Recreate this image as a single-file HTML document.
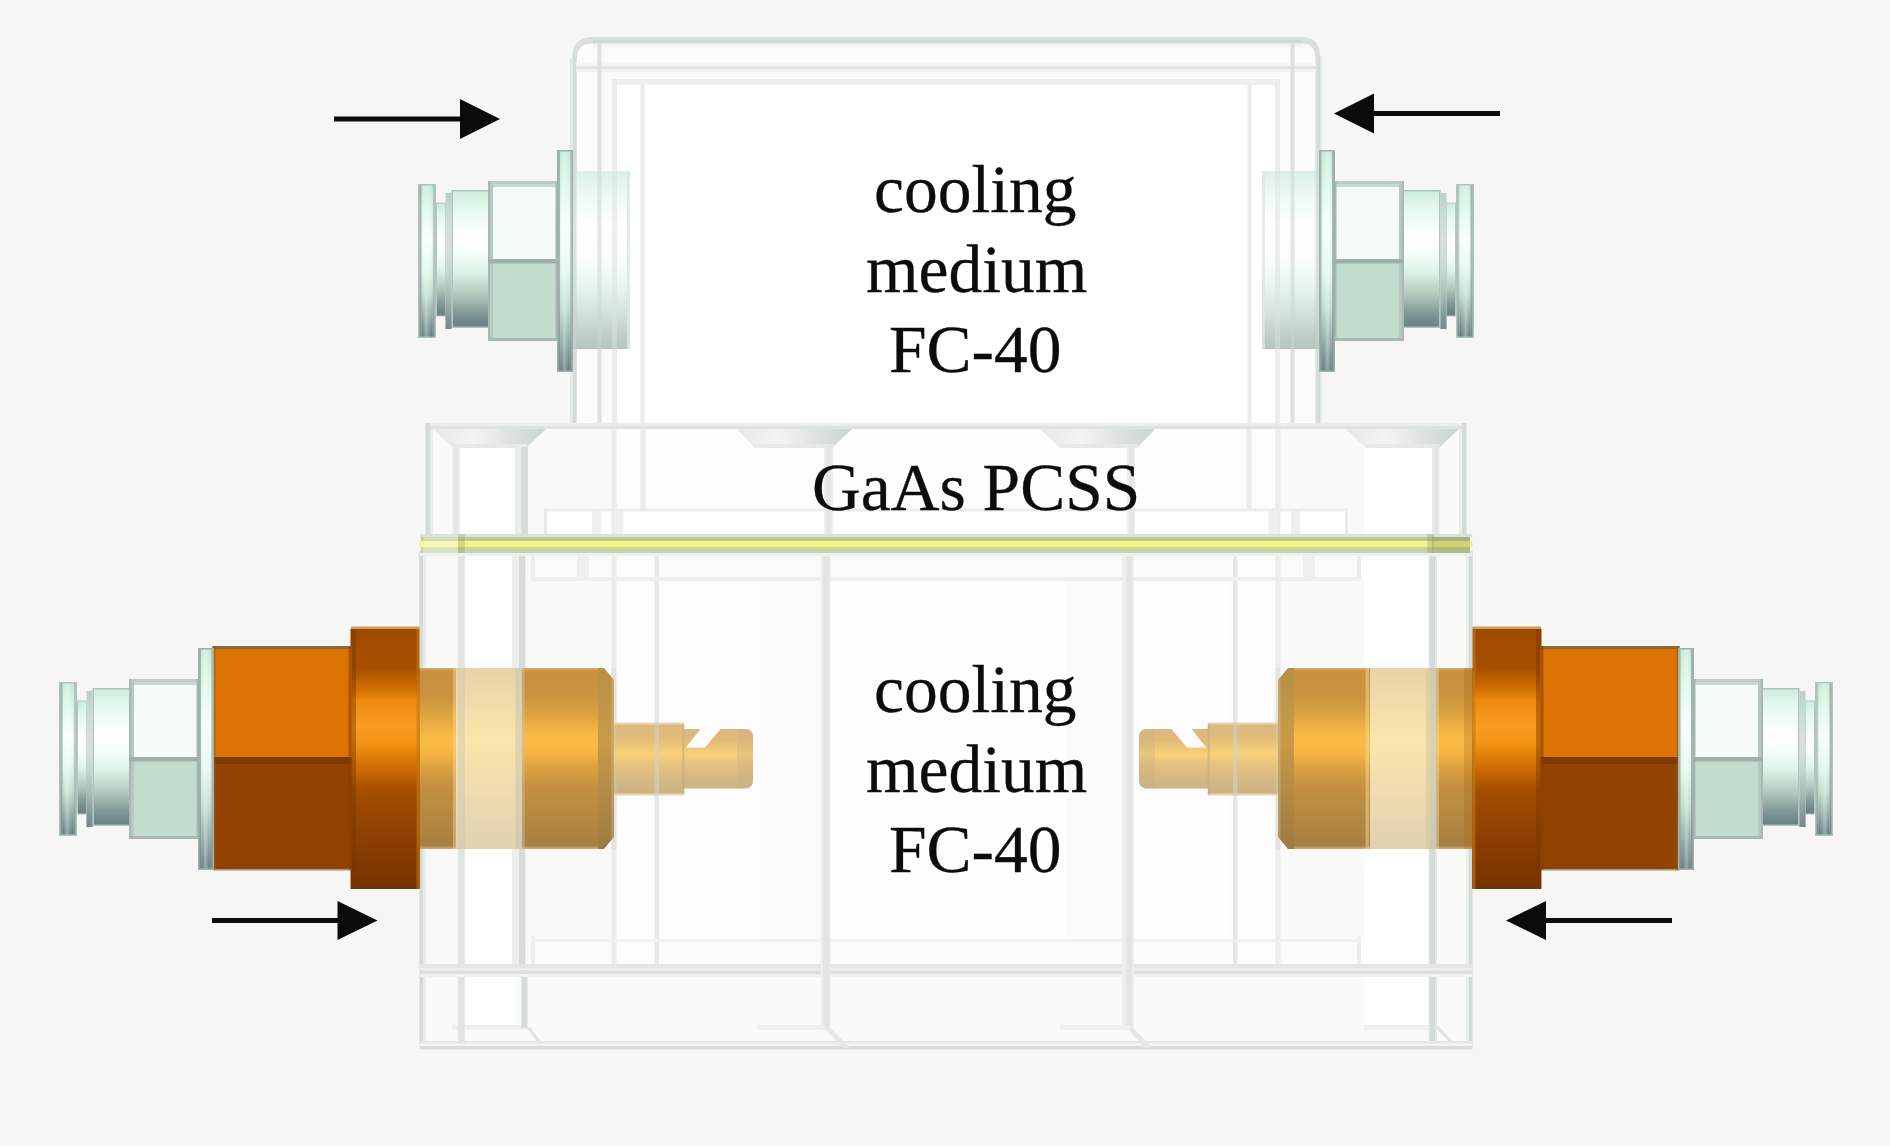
<!DOCTYPE html>
<html><head><meta charset="utf-8"><style>
html,body{margin:0;padding:0;background:#f6f6f4;}
svg{display:block}
text{font-family:"Liberation Serif",serif;fill:#0b0c0c}
</style></head><body>
<svg width="1890" height="1146" viewBox="0 0 1890 1146">
<defs>
 <linearGradient id="gCyl" x1="0" y1="0" x2="0" y2="1">
  <stop offset="0" stop-color="#cdeadb"/><stop offset="0.12" stop-color="#e2f9ec"/>
  <stop offset="0.33" stop-color="#ffffff"/><stop offset="0.45" stop-color="#f6fff9"/><stop offset="0.58" stop-color="#dff5e8"/>
  <stop offset="0.75" stop-color="#b4ccc0"/><stop offset="0.9" stop-color="#7e9694"/>
  <stop offset="1" stop-color="#687e84"/>
 </linearGradient>
 <linearGradient id="gRing" x1="0" y1="0" x2="0" y2="1">
  <stop offset="0" stop-color="#c4ead4"/><stop offset="0.15" stop-color="#daf7e6"/>
  <stop offset="0.35" stop-color="#f6fffa"/><stop offset="0.55" stop-color="#e2f8eb"/>
  <stop offset="0.72" stop-color="#bcdcca"/><stop offset="0.87" stop-color="#8aa6a0"/>
  <stop offset="1" stop-color="#5f767a"/>
 </linearGradient>
 <linearGradient id="gRingH" x1="0" y1="0" x2="1" y2="0">
  <stop offset="0" stop-color="#7f9490" stop-opacity="0.75"/><stop offset="0.18" stop-color="#7f9490" stop-opacity="0.6"/>
  <stop offset="0.24" stop-color="#ffffff" stop-opacity="0"/>
  <stop offset="0.45" stop-color="#ffffff" stop-opacity="0.35"/><stop offset="0.75" stop-color="#ffffff" stop-opacity="0"/>
  <stop offset="0.85" stop-color="#8a9c9a" stop-opacity="0.45"/><stop offset="1" stop-color="#8a9c9a" stop-opacity="0.6"/>
 </linearGradient>
 <linearGradient id="gOrRing" x1="0" y1="0" x2="0" y2="1">
  <stop offset="0" stop-color="#a04a00"/><stop offset="0.155" stop-color="#a85000"/>
  <stop offset="0.23" stop-color="#d07000"/><stop offset="0.275" stop-color="#ee8a10"/>
  <stop offset="0.37" stop-color="#fa9c22"/><stop offset="0.44" stop-color="#f39414"/>
  <stop offset="0.53" stop-color="#cf6e04"/><stop offset="0.62" stop-color="#a44e00"/>
  <stop offset="0.75" stop-color="#934400"/><stop offset="0.9" stop-color="#803800"/>
  <stop offset="1" stop-color="#743200"/>
 </linearGradient>
 <linearGradient id="gGold" x1="0" y1="0" x2="0" y2="1">
  <stop offset="0" stop-color="#d6ad6a"/><stop offset="0.02" stop-color="#c8913f"/>
  <stop offset="0.15" stop-color="#c99340"/><stop offset="0.25" stop-color="#dca23f"/>
  <stop offset="0.35" stop-color="#f5b544"/><stop offset="0.39" stop-color="#fbbb46"/>
  <stop offset="0.47" stop-color="#f7b644"/><stop offset="0.55" stop-color="#dda240"/>
  <stop offset="0.65" stop-color="#c69040"/><stop offset="0.8" stop-color="#b78a40"/>
  <stop offset="0.98" stop-color="#a98040"/><stop offset="1" stop-color="#cdb080"/>
 </linearGradient>
 <linearGradient id="gGoldD" x1="0" y1="0" x2="0" y2="1">
  <stop offset="0" stop-color="#b89048"/><stop offset="0.4" stop-color="#c99a48"/>
  <stop offset="1" stop-color="#9c7a44"/>
 </linearGradient>
 <linearGradient id="gPale" x1="0" y1="0" x2="0" y2="1">
  <stop offset="0" stop-color="#e8d3a8"/><stop offset="0.4" stop-color="#fbe5ab"/>
  <stop offset="1" stop-color="#e0d1b2"/>
 </linearGradient>
 <linearGradient id="gPin" x1="0" y1="0" x2="0" y2="1">
  <stop offset="0" stop-color="#dcb882"/><stop offset="0.2" stop-color="#e2bb78"/>
  <stop offset="0.42" stop-color="#f9d27a"/><stop offset="0.6" stop-color="#e6c080"/>
  <stop offset="0.8" stop-color="#d5b886"/><stop offset="1" stop-color="#ceb383"/>
 </linearGradient>
 <linearGradient id="gBody" x1="0" y1="0" x2="0" y2="1">
  <stop offset="0" stop-color="#d6efe1"/><stop offset="0.15" stop-color="#ecfaf2"/>
  <stop offset="0.3" stop-color="#ffffff"/><stop offset="0.5" stop-color="#f8fefb"/>
  <stop offset="0.66" stop-color="#e0f3e8"/><stop offset="0.82" stop-color="#c6dacf"/>
  <stop offset="0.93" stop-color="#b2c5bd"/><stop offset="1" stop-color="#a9bbb4"/>
 </linearGradient>
 <linearGradient id="gTrap" x1="0" y1="0" x2="1" y2="0">
  <stop offset="0" stop-color="#e3e7e5"/><stop offset="0.35" stop-color="#f3f5f4"/>
  <stop offset="0.75" stop-color="#d9dfdc"/><stop offset="1" stop-color="#ccd3d0"/>
 </linearGradient>

 <g id="fitting">
  <rect x="0" y="-77" width="18" height="154" fill="url(#gRing)"/>
  <rect x="0" y="-77" width="18" height="154" fill="url(#gRingH)"/>
  <rect x="0.75" y="-76.25" width="16.5" height="152.5" fill="none" stroke="#b4c2be" stroke-width="1.5"/>
  <rect x="18.5" y="-58" width="9" height="113" fill="url(#gCyl)"/>
  <rect x="18.5" y="-58" width="9" height="113" fill="none" stroke="#b9c6c2" stroke-width="1"/>
  <rect x="27.5" y="-68" width="6" height="136" fill="url(#gCyl)"/>
  <rect x="27.5" y="-68" width="6" height="136" fill="#90a4a0" opacity="0.35"/>
  <rect x="33.5" y="-71" width="38" height="138" fill="url(#gCyl)"/>
  <rect x="34.25" y="-70.25" width="36.5" height="136.5" fill="none" stroke="#b4c2be" stroke-width="1.5"/>
  <rect x="70" y="-80" width="71" height="160" fill="#c2dcce"/>
  <rect x="70" y="-80" width="71" height="80" fill="#f5fcf8"/>
  <rect x="70" y="-80" width="71" height="3" fill="#c0c9c5"/>
  <rect x="70" y="-77" width="71" height="3" fill="#c4dbcf"/>
  <rect x="70" y="-80" width="5" height="160" fill="#b6c8c0"/>
  <rect x="70" y="-80" width="2" height="160" fill="#a9b7b2"/>
  <rect x="137.5" y="-80" width="3" height="160" fill="#a8b8b2"/>
  <rect x="70" y="77" width="71" height="3" fill="#a9b8b3"/>
  <rect x="70" y="-2" width="71" height="4.5" fill="#9fb0aa"/>
  <rect x="139" y="-111" width="16" height="222" fill="url(#gRing)"/>
  <rect x="139" y="-111" width="16" height="222" fill="url(#gRingH)"/>
  <rect x="139.75" y="-110.25" width="14.5" height="220.5" fill="none" stroke="#9fb0ab" stroke-width="1.5"/>
 </g>

 <g id="conn">
  <!-- gold main -->
  <rect x="420" y="668" width="180" height="181" fill="url(#gGold)"/>
  <rect x="453" y="668" width="5" height="181" fill="#f0d8a0" opacity="0.45"/>
  <rect x="456" y="668" width="66" height="181" fill="url(#gPale)"/>
  <path d="M598,668 L604,668 L614,680 L614,837 L604,849 L598,849 Z" fill="url(#gGoldD)"/>
  <!-- pin -->
  <rect x="614" y="722.5" width="70" height="73" fill="#e9d4ac"/>
  <rect x="614" y="724.5" width="70" height="69" fill="url(#gPin)"/>
  <path d="M684,729 L700.5,729 L686,747.5 L705,747.5 L720.5,729 L745,729 Q753,729 753,737 L753,780 Q753,788.5 745,788.5 L684,788.5 Z" fill="url(#gPin)"/>
  <rect x="682" y="724" width="2.5" height="70" fill="#c4ae84" opacity="0.6"/>
  <path d="M737,729 L745,729 Q753,729 753,737 L753,780 Q753,788.5 745,788.5 L737,788.5 Z" fill="#c8ae80" opacity="0.35"/>
  <!-- orange ring -->
  <rect x="351" y="626.5" width="69" height="4" fill="#c9a060"/>
  <rect x="351" y="629" width="69" height="260" fill="url(#gOrRing)"/>
  <rect x="350" y="629" width="6" height="260" fill="#7a3600" opacity="0.45"/>
  <rect x="416.5" y="629" width="3.5" height="260" fill="#c07818" opacity="0.6"/>
  <!-- orange hex -->
  <rect x="212.5" y="646" width="139" height="3" fill="#8a6a40"/>
  <rect x="212.5" y="649" width="139" height="109" fill="#dc7302"/>
  <rect x="212.5" y="757" width="139" height="7" fill="#7c3a02"/>
  <rect x="212.5" y="764" width="139" height="105" fill="#934300"/>
  <rect x="212.5" y="868.5" width="139" height="2" fill="#8a6a40" opacity="0.7"/>
  <rect x="212.5" y="646" width="3" height="224" fill="#a05a10" opacity="0.6"/>
  <rect x="348.5" y="646" width="3" height="224" fill="#8a4000" opacity="0.6"/>
 </g>
</defs>

<g id="topbox">
<path d="M570,428 L570,60 L572,58 Q572,37 593,37 L1301,37 Q1320,37 1320,56 L1322,58 L1322,428 Z" fill="#fbfbfa"/>
<path d="M572,58 Q572,37 593,37 L1301,37 Q1320,37 1320,56 L1320,60 L1315,60 L1315,56 Q1315,43.5 1301,43.5 L593,43.5 Q577,43.5 577,58 L577,60 L572,60 Z" fill="#d9dfdc"/>
<rect x="593" y="40" width="708" height="3.5" fill="#cfd8d3"/>
<rect x="593" y="43.5" width="708" height="3" fill="#f3f2ef"/>
<rect x="570" y="58" width="7" height="370" fill="#e4e9e6"/>
<rect x="573" y="56" width="3.5" height="372" fill="#d3dcd8"/>
<rect x="1315" y="56" width="7" height="372" fill="#e4e9e6"/>
<rect x="1316.5" y="56" width="3.5" height="372" fill="#d3dcd8"/>
<rect x="576" y="63" width="740" height="3" fill="#f6f6f5"/>
<rect x="576" y="66" width="740" height="3" fill="#e3e3e2"/>
<rect x="576" y="69" width="740" height="3" fill="#f1f1f0"/>
<rect x="597.5" y="44" width="4" height="384" fill="#dbe2de"/>
<rect x="1290.5" y="44" width="4" height="384" fill="#dbe2de"/>
<rect x="612" y="79" width="668" height="349" fill="#f0f0ee"/>
<rect x="617" y="85" width="658" height="343" fill="#ffffff"/>
<rect x="612" y="79" width="5" height="349" fill="#ececea"/>
<rect x="1275" y="79" width="5" height="349" fill="#ececea"/>
<rect x="640.5" y="85" width="4" height="343" fill="#ececeb"/>
<rect x="1247.5" y="85" width="4" height="343" fill="#ececeb"/>
</g>
<rect x="573" y="171" width="57" height="178" fill="url(#gBody)" opacity="0.85"/>
<rect x="1262" y="171" width="57" height="178" fill="url(#gBody)" opacity="0.85"/>
<rect x="627" y="171" width="3" height="178" fill="#dfe6e2" opacity="0.8"/>
<rect x="1262" y="171" width="3" height="178" fill="#dfe6e2" opacity="0.8"/>
<rect x="573" y="171" width="3.5" height="178" fill="#c9d6d0" opacity="0.6"/><rect x="597.5" y="171" width="4" height="178" fill="#cfdad5" opacity="0.55"/><rect x="612" y="171" width="5" height="178" fill="#dde3e0" opacity="0.5"/>
<g transform="translate(1892,0) scale(-1,1)"><rect x="573" y="171" width="3.5" height="178" fill="#c9d6d0" opacity="0.6"/><rect x="597.5" y="171" width="4" height="178" fill="#cfdad5" opacity="0.55"/><rect x="612" y="171" width="5" height="178" fill="#dde3e0" opacity="0.5"/></g>
<use href="#fitting" transform="translate(418,261)"/>
<use href="#fitting" transform="translate(1474,261) scale(-1,1)"/>
<g id="lowbox">
<rect x="426" y="423" width="1040" height="114" fill="#fafaf9"/>
<rect x="420" y="551" width="1052" height="498" fill="#fbfbfb"/>
<rect x="460" y="447" width="55" height="88" fill="#ffffff"/>
<rect x="1363" y="447" width="70" height="88" fill="#ffffff"/>
<rect x="528" y="429" width="84" height="106" fill="#f9f9f9"/><rect x="617" y="429" width="24" height="80" fill="#fcfcfc"/>
<g transform="translate(1892,0) scale(-1,1)"><rect x="528" y="429" width="84" height="106" fill="#f9f9f9"/><rect x="617" y="429" width="24" height="80" fill="#fcfcfc"/></g>
<rect x="645" y="429" width="602" height="80" fill="#fdfdfd"/>
<rect x="547" y="511" width="798" height="24" fill="#ffffff"/>
<rect x="423" y="553" width="34" height="411" fill="#f9f9f8"/><rect x="526" y="581" width="85" height="358" fill="#f9f9f9"/><rect x="617" y="553" width="37" height="411" fill="#fdfdfd"/>
<g transform="translate(1892,0) scale(-1,1)"><rect x="423" y="553" width="34" height="411" fill="#f9f9f8"/><rect x="526" y="581" width="85" height="358" fill="#f9f9f9"/><rect x="617" y="553" width="37" height="411" fill="#fdfdfd"/></g>
<rect x="659" y="581" width="570" height="358" fill="#fdfdfd"/>
<rect x="830" y="581" width="296" height="358" fill="#fefefe"/>
<rect x="760" y="581" width="62" height="358" fill="#fbfbfb"/>
<rect x="1066" y="581" width="60" height="358" fill="#fbfbfb"/>
<rect x="423" y="977" width="1046" height="64" fill="#fafafa"/>
<rect x="465" y="977" width="50" height="48" fill="#ffffff"/>
<rect x="1364" y="977" width="65" height="48" fill="#ffffff"/>
<rect x="465" y="553" width="47" height="411" fill="#ffffff"/>
<rect x="1364" y="553" width="65" height="411" fill="#ffffff"/>
<rect x="426" y="423" width="1040" height="3" fill="#ecedeb"/>
<rect x="426" y="426" width="1040" height="3" fill="#dee3e0"/>
<polygon points="433,429 546,429 527,447 452,447" fill="url(#gTrap)"/>
<rect x="452" y="444" width="75" height="4" fill="#e6e9e7"/>
<polygon points="737,429 852,429 833,447 754,447" fill="url(#gTrap)"/>
<rect x="754" y="444" width="79" height="4" fill="#e6e9e7"/>
<polygon points="1040,429 1155,429 1138,447 1059,447" fill="url(#gTrap)"/>
<rect x="1059" y="444" width="79" height="4" fill="#e6e9e7"/>
<polygon points="1346,429 1459,429 1440,447 1365,447" fill="url(#gTrap)"/>
<rect x="1365" y="444" width="75" height="4" fill="#e6e9e7"/>
<rect x="425.5" y="423" width="4.5" height="114" fill="#d3dbd7"/><rect x="430" y="429" width="3" height="108" fill="#e9ecea"/><rect x="452.5" y="447" width="7.5" height="88" fill="#ebedeb"/><rect x="454" y="447" width="4" height="88" fill="#e2e6e4"/><rect x="611.5" y="429" width="5" height="106" fill="#ececeb"/><rect x="640.5" y="429" width="5" height="80" fill="#ececeb"/><rect x="544" y="508.5" width="3" height="27" fill="#e8ebe9"/><rect x="592" y="511" width="9" height="24" fill="#eef0ef"/><rect x="614.5" y="511" width="9" height="24" fill="#eef0ef"/>
<g transform="translate(1892,0) scale(-1,1)"><rect x="425.5" y="423" width="4.5" height="114" fill="#d3dbd7"/><rect x="430" y="429" width="3" height="108" fill="#e9ecea"/><rect x="452.5" y="447" width="7.5" height="88" fill="#ebedeb"/><rect x="454" y="447" width="4" height="88" fill="#e2e6e4"/><rect x="611.5" y="429" width="5" height="106" fill="#ececeb"/><rect x="640.5" y="429" width="5" height="80" fill="#ececeb"/><rect x="544" y="508.5" width="3" height="27" fill="#e8ebe9"/><rect x="592" y="511" width="9" height="24" fill="#eef0ef"/><rect x="614.5" y="511" width="9" height="24" fill="#eef0ef"/></g>
<rect x="544" y="508.5" width="804" height="3" fill="#eceeed"/>
<rect x="824" y="447" width="9" height="88" fill="#eceeed"/>
<rect x="826" y="447" width="5" height="88" fill="#e2e6e4"/>
<rect x="1127" y="447" width="8" height="88" fill="#eceeed"/>
<rect x="1129" y="447" width="5" height="88" fill="#e2e6e4"/>
<rect x="419.5" y="551" width="3.5" height="498" fill="#d3dbd7"/><rect x="423" y="553" width="3" height="488" fill="#eaedeb"/><rect x="531" y="553" width="4" height="28" fill="#eceeed"/><rect x="577" y="553" width="12" height="28" fill="#eef0ef"/><rect x="611.5" y="553" width="5" height="414" fill="#ececea"/><rect x="654.5" y="553" width="4.5" height="414" fill="#e6e9e7"/><rect x="531" y="936" width="4" height="30" fill="#eceeed"/><rect x="452" y="1025" width="76" height="5" fill="#eef0ef"/>
<g transform="translate(1892,0) scale(-1,1)"><rect x="419.5" y="551" width="3.5" height="498" fill="#d3dbd7"/><rect x="423" y="553" width="3" height="488" fill="#eaedeb"/><rect x="531" y="553" width="4" height="28" fill="#eceeed"/><rect x="577" y="553" width="12" height="28" fill="#eef0ef"/><rect x="611.5" y="553" width="5" height="414" fill="#ececea"/><rect x="654.5" y="553" width="4.5" height="414" fill="#e6e9e7"/><rect x="531" y="936" width="4" height="30" fill="#eceeed"/><rect x="452" y="1025" width="76" height="5" fill="#eef0ef"/></g>
<polygon points="526,1027 530,1027 546,1048 542,1048" fill="#dfe4e1"/>
<polygon points="1435,1027 1439.5,1027 1454,1043 1450,1043" fill="#dfe4e1"/>
<rect x="515" y="447" width="13" height="88" fill="#ebedec"/>
<rect x="521.5" y="447" width="6.5" height="88" fill="#d6ddd9"/>
<rect x="512" y="553" width="14" height="412" fill="#eceeed"/>
<rect x="519" y="553" width="6" height="412" fill="#d6ddd9"/>
<rect x="521.5" y="965" width="6" height="63" fill="#d6ddd9"/>
<rect x="457.5" y="553" width="7.5" height="496" fill="#e6e9e7"/>
<rect x="459" y="553" width="5" height="496" fill="#dfe4e1"/>
<rect x="1428.5" y="553" width="8.5" height="496" fill="#e3e7e5"/>
<rect x="1430" y="553" width="5" height="496" fill="#d3dbd7"/>
<rect x="531" y="577" width="830" height="4" fill="#eeefee"/>
<rect x="531" y="939" width="830" height="3" fill="#f0f1f0"/>
<rect x="420" y="964" width="1052" height="4" fill="#e2e6e4"/>
<rect x="420" y="968" width="1052" height="2.5" fill="#eceeed"/>
<rect x="420" y="970.5" width="1052" height="3.5" fill="#dce1de"/>
<rect x="420" y="974" width="1052" height="3" fill="#f0f1f0"/>
<rect x="420" y="1041" width="1052" height="2.5" fill="#e5e8e6"/>
<rect x="420" y="1043.5" width="1052" height="2.5" fill="#f2f3f2"/>
<rect x="420" y="1046" width="1052" height="3.5" fill="#d9dedc"/>
<rect x="820.5" y="553" width="10" height="474" fill="#edefee"/>
<rect x="823" y="553" width="6.5" height="474" fill="#e1e6e3"/>
<polygon points="823,1027 829.5,1027 850,1048 843,1048" fill="#e3e7e5"/>
<rect x="757" y="1025" width="68" height="5" fill="#eef0ef"/>
<rect x="1122" y="553" width="12" height="474" fill="#edefee"/>
<rect x="1126" y="553" width="6.5" height="474" fill="#e1e6e3"/>
<polygon points="1126,1027 1132.5,1027 1152,1048 1145,1048" fill="#e3e7e5"/>
<rect x="1060" y="1025" width="70" height="5" fill="#eef0ef"/>
</g>
<use href="#conn"/>
<use href="#conn" transform="translate(1892,0) scale(-1,1)"/>
<use href="#fitting" transform="translate(59,759)"/>
<use href="#fitting" transform="translate(1833,759) scale(-1,1)"/>
<rect x="458" y="668" width="7" height="181" fill="#c8c8b8" opacity="0.45"/>
<rect x="1429.5" y="668" width="7.5" height="181" fill="#b8c0b8" opacity="0.5"/>
<rect x="611.5" y="668" width="5" height="181" fill="#d0d0c0" opacity="0.3"/><rect x="654.5" y="722" width="4.5" height="74" fill="#d0d4cc" opacity="0.55"/><rect x="419.5" y="551" width="3.5" height="117" fill="#d3dbd7"/>
<g transform="translate(1892,0) scale(-1,1)"><rect x="611.5" y="668" width="5" height="181" fill="#d0d0c0" opacity="0.3"/><rect x="654.5" y="722" width="4.5" height="74" fill="#d0d4cc" opacity="0.55"/><rect x="419.5" y="551" width="3.5" height="117" fill="#d3dbd7"/></g>
<rect x="515.5" y="668" width="9" height="181" fill="#c8c2b0" opacity="0.5"/>
<rect x="1365.5" y="668" width="3.5" height="181" fill="#f0d8a0" opacity="0.5"/>
<rect x="1426" y="668" width="3.5" height="181" fill="#d8c8a0" opacity="0.6"/>
<rect x="1464" y="668" width="9" height="181" fill="#9a6010" opacity="0.25"/>
<g>
<rect x="420" y="534" width="1052" height="3" fill="#dde1de"/>
<rect x="421" y="537" width="1049" height="4" fill="#bec990"/>
<rect x="420" y="541" width="1052.5" height="6" fill="#eff591"/>
<rect x="421" y="547" width="1049" height="3" fill="#cad985"/>
<rect x="421" y="550" width="1049" height="3" fill="#c8d1b8"/>
<rect x="420" y="553" width="1052" height="3" fill="#edf0ed"/>
<rect x="423" y="537" width="35" height="16" fill="#ffffff" opacity="0.35"/>
<rect x="458" y="534" width="7" height="19" fill="#8a9468" opacity="0.3"/>
<rect x="1432" y="537" width="38" height="16" fill="#6a7030" opacity="0.25"/>
<rect x="1427" y="534" width="7" height="19" fill="#8a9468" opacity="0.3"/>
</g>
<g fill="#0a0b0b">
 <rect x="334" y="116.5" width="127" height="5"/>
 <polygon points="460,99 500,119 460,139"/>
 <rect x="1373" y="111" width="127" height="5"/>
 <polygon points="1374,93.5 1334,113.5 1374,133.5"/>
 <rect x="212" y="918" width="127" height="5"/>
 <polygon points="337.5,901 377.5,920.5 337.5,940"/>
 <rect x="1545" y="918" width="127" height="5"/>
 <polygon points="1546,901 1506,920.5 1546,940"/>
</g>
<g font-size="67.5" stroke="#0b0c0c" stroke-width="0.3">
 <text x="874" y="211.5">cooling</text>
 <text x="866" y="291.5">medium</text>
 <text x="889" y="371.5">FC-40</text>
 <text x="812" y="510">GaAs PCSS</text>
 <text x="874" y="711.5">cooling</text>
 <text x="866" y="791.5">medium</text>
 <text x="889" y="871.5">FC-40</text>
</g>
</svg>
</body></html>
